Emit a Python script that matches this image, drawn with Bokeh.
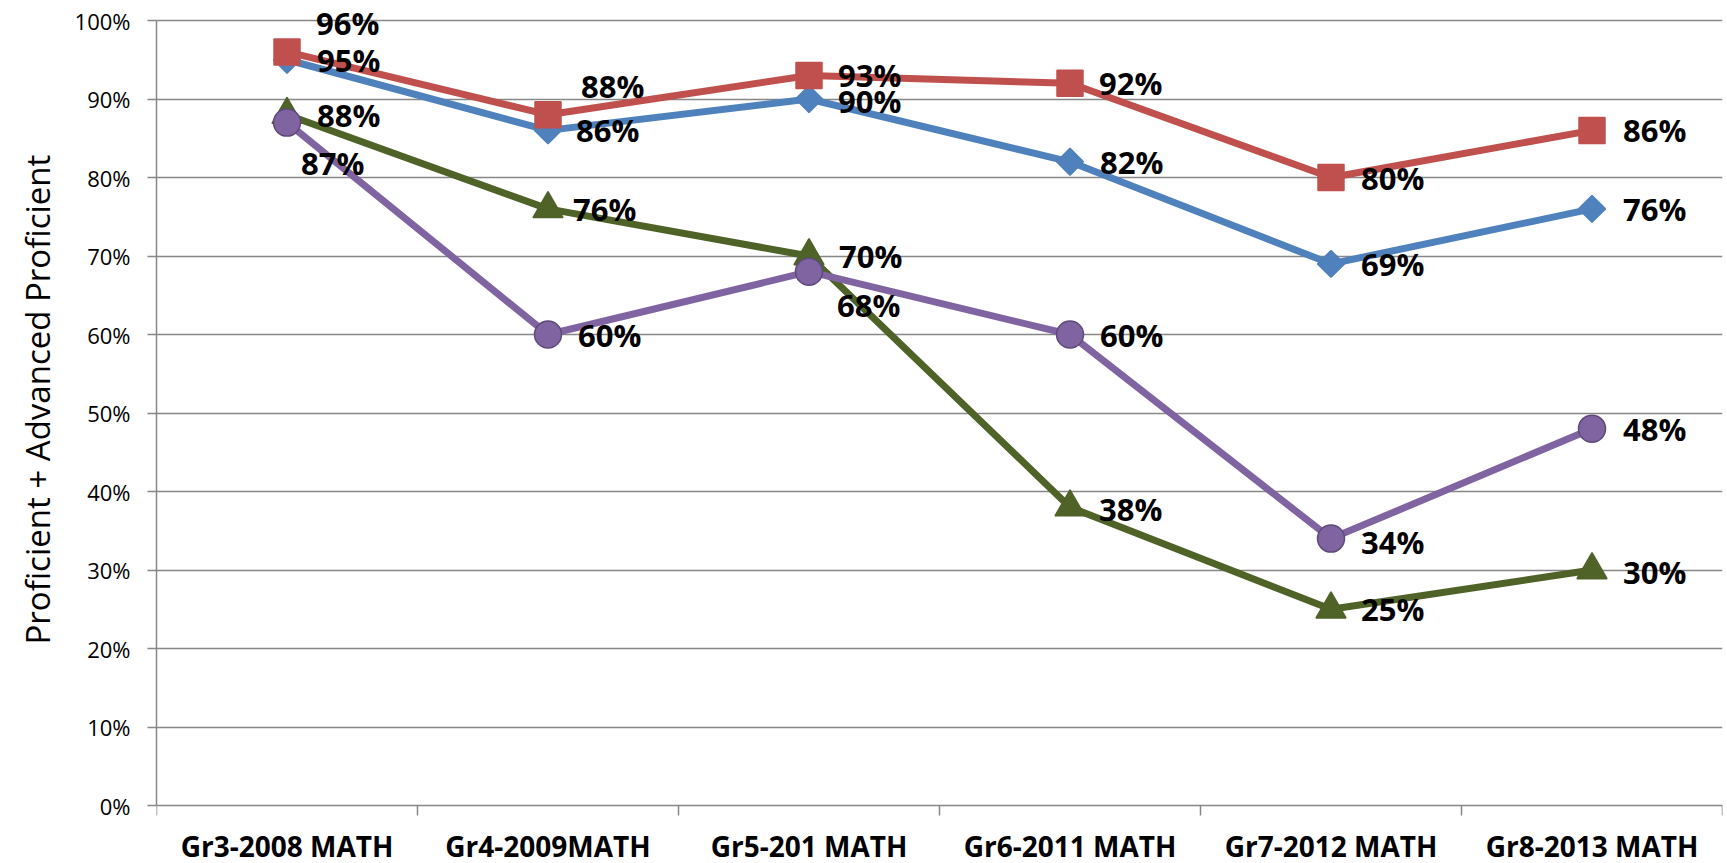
import math
from bokeh.plotting import figure
from bokeh.models import FixedTicker, NumeralTickFormatter, Range1d, ColumnDataSource, Title
from bokeh.core.properties import value
from bokeh.embed import file_html
from bokeh.resources import INLINE

# ---- data ----
categories = ["Gr3-2008 MATH", "Gr4-2009MATH", "Gr5-201 MATH",
              "Gr6-2011 MATH", "Gr7-2012 MATH", "Gr8-2013 MATH"]
blue_vals = [0.95, 0.86, 0.90, 0.82, 0.69, 0.76]
red_vals = [0.96, 0.88, 0.93, 0.92, 0.80, 0.86]
green_vals = [0.88, 0.76, 0.70, 0.38, 0.25, 0.30]
purple_vals = [0.87, 0.60, 0.68, 0.60, 0.34, 0.48]
y_ticks = [0.0, 0.1, 0.2, 0.3, 0.4, 0.5, 0.6, 0.7, 0.8, 0.9, 1.0]
y_title = "Proficient + Advanced Proficient"

# manual data-label nudges (screen px), as placed in the original chart
blue_dx = [30, 28, 29, 30, 30, 31]
blue_dy = [0, 0, 2, 0, 0, 0]
red_dx = [29, 33, 29, 29, 30, 31]
red_dy = [-29, -29, 0, 0, 0, 0]
green_dx = [30, 25, 30, 29, 30, 31]
green_dy = [0, 0, 0, 2, 0, 2]
purple_dx = [14, 30, 28, 30, 30, 31]
purple_dy = [40, 0, 33, 0, 3, 0]

FONT = "Open Sans"
GRID = "#878787"

W, H = 1727, 863
LEFT, RIGHT = 156, 5  # px borders around the plotting area
TOP_PAD = 20          # px between canvas top and the 100% line
PLOT_H = 785          # px from 0% to 100%
BOTTOM_PAD = H - TOP_PAD - PLOT_H   # room under 0% for the category labels
TICK_LEN = 10         # px, category boundary tick marks

xs = list(range(len(categories)))
bounds = [i - 0.5 for i in range(len(categories) + 1)]

p = figure(width=W, height=H, output_backend="svg", toolbar_location=None,
           x_range=Range1d(-0.5, len(categories) - 0.5),
           y_range=Range1d(-BOTTOM_PAD / PLOT_H, 1 + TOP_PAD / PLOT_H),
           x_axis_location=None,
           min_border_left=LEFT, min_border_right=RIGHT,
           min_border_top=0, min_border_bottom=0)
p.outline_line_color = None
p.background_fill_color = "white"
p.border_fill_color = "white"

# grid
p.xgrid.grid_line_color = None
p.ygrid.ticker = FixedTicker(ticks=y_ticks)
p.ygrid.grid_line_color = GRID
p.ygrid.grid_line_width = 1.5

# y axis
p.yaxis.ticker = FixedTicker(ticks=y_ticks)
p.yaxis.formatter = NumeralTickFormatter(format="0%")
p.yaxis.bounds = (0, 1)
p.yaxis.axis_line_color = GRID
p.yaxis.axis_line_width = 1.5
p.yaxis.major_tick_line_color = GRID
p.yaxis.major_tick_line_width = 1.5
p.yaxis.major_tick_out = 9
p.yaxis.major_tick_in = 0
p.yaxis.minor_tick_line_color = None
p.yaxis.major_label_text_font = FONT
p.yaxis.major_label_text_font_size = "22px"
p.yaxis.major_label_text_color = "black"
p.yaxis.major_label_standoff = 17

# y-axis title, anchored from the bottom so it sits where the original has it
p.add_layout(Title(text=y_title, align="left", offset=219, standoff=20,
                   vertical_align="top",
                   text_font=FONT, text_font_size="33px",
                   text_font_style="normal", text_color="black"), "left")

# category axis (drawn at the 0% line): boundary ticks + centred labels
p.segment(x0=bounds, y0=[0] * len(bounds), x1=bounds,
          y1=[-TICK_LEN / PLOT_H] * len(bounds),
          line_color=GRID, line_width=1.5)
p.text(x=xs, y=[0] * len(xs), text=categories, y_offset=[40] * len(xs),
       text_font=value(FONT), text_font_style="bold", text_font_size="28px",
       text_color="black", text_align="center", text_baseline="alphabetic")

series = [
    (blue_vals, "#4F81BD", "square", 19, math.pi / 4, "#4F81BD", blue_dx, blue_dy),
    (red_vals, "#C0504D", "square", 26, 0.0, "#C0504D", red_dx, red_dy),
    (green_vals, "#4F6228", "triangle", 30, 0.0, "#4F6228", green_dx, green_dy),
    (purple_vals, "#8064A2", "circle", 27, 0.0, "#5E4A7A", purple_dx, purple_dy),
]

for vals, color, marker, size, angle, outline, dx, dy in series:
    src = ColumnDataSource(dict(x=xs, y=vals))
    p.line("x", "y", source=src, line_color=color, line_width=7, line_join="round")
    p.scatter("x", "y", source=src, marker=marker, size=size, angle=angle,
              fill_color=color, line_color=outline, line_width=1.5)

for vals, color, marker, size, angle, outline, dx, dy in series:
    src = ColumnDataSource(dict(
        x=xs, y=vals,
        label=[f"{round(v * 100)}%" for v in vals],
        dx=dx, dy=dy,
    ))
    p.text("x", "y", text="label", source=src, x_offset="dx", y_offset="dy",
           text_font=value(FONT), text_font_style="bold", text_font_size="31px",
           text_color="black", text_align="left", text_baseline="middle")

open("out.html", "w").write(file_html(p, INLINE))
